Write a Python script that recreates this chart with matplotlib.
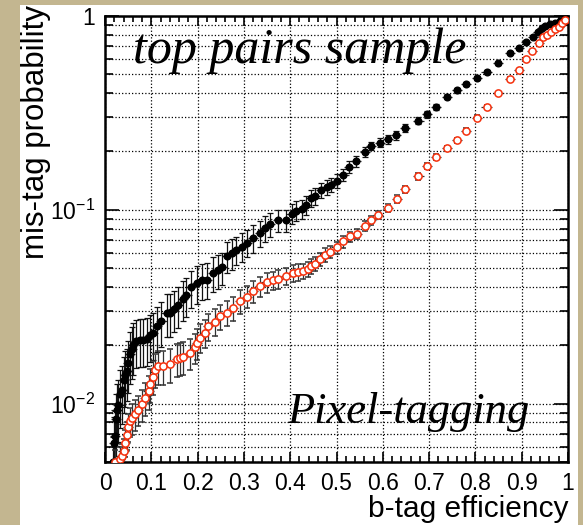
import math
import matplotlib
matplotlib.use('Agg')
import matplotlib.pyplot as plt
from matplotlib.patches import Rectangle
from matplotlib.ticker import FixedLocator, MultipleLocator, LogLocator, NullFormatter, FuncFormatter

plt.rcParams['font.family'] = ['Liberation Sans', 'DejaVu Sans']
plt.rcParams['mathtext.fontset'] = 'custom'
plt.rcParams['mathtext.rm'] = 'Liberation Sans'
plt.rcParams['mathtext.it'] = 'Liberation Sans:italic'

# black: filled circles
black_eff = [0.018, 0.020, 0.022, 0.023, 0.025, 0.029, 0.033, 0.036, 0.040, 0.044,
             0.047, 0.050, 0.054, 0.058, 0.061, 0.068, 0.076, 0.083, 0.090, 0.097,
             0.104, 0.112, 0.122, 0.133, 0.140, 0.148, 0.158, 0.168, 0.176, 0.186,
             0.198, 0.210, 0.220, 0.234, 0.244, 0.252, 0.263, 0.274, 0.284, 0.295,
             0.306, 0.320, 0.335, 0.345, 0.356, 0.374, 0.392, 0.403, 0.412, 0.425,
             0.435, 0.446, 0.453, 0.466, 0.479, 0.488, 0.500, 0.515, 0.528, 0.542,
             0.562, 0.575, 0.594, 0.612, 0.628, 0.648, 0.677, 0.695, 0.715, 0.738,
             0.761, 0.780, 0.803, 0.824, 0.849, 0.875, 0.895, 0.909, 0.925, 0.936,
             0.943, 0.950, 0.961, 0.972, 0.983, 0.994]
black_mis = [0.0050, 0.0063, 0.0068, 0.0083, 0.0093, 0.0098, 0.0112, 0.0117, 0.0132, 0.0141,
             0.0148, 0.0162, 0.0180, 0.0191, 0.0200, 0.0211, 0.0214, 0.0214, 0.0216, 0.0226,
             0.0231, 0.0251, 0.0266, 0.0295, 0.0295, 0.0309, 0.0324, 0.0347, 0.0363, 0.0398,
             0.0421, 0.0432, 0.0437, 0.0473, 0.0490, 0.0505, 0.0579, 0.0596, 0.0622, 0.0646,
             0.0676, 0.0716, 0.0759, 0.0804, 0.0847, 0.0881, 0.0881, 0.0955, 0.0991, 0.1007,
             0.1062, 0.1148, 0.1175, 0.1259, 0.1309, 0.1346, 0.1413, 0.1514, 0.1660, 0.1778,
             0.1995, 0.2138, 0.2223, 0.2312, 0.2427, 0.2655, 0.2884, 0.3112, 0.3412, 0.3837,
             0.4140, 0.4467, 0.4786, 0.5164, 0.5702, 0.6427, 0.6808, 0.7379, 0.7816, 0.8299,
             0.8630, 0.8872, 0.9099, 0.9247, 0.9462, 0.9727]
black_rel = [0.35, 0.35, 0.35, 0.35, 0.35, 0.35, 0.33, 0.33, 0.32, 0.32,
             0.30, 0.30, 0.30, 0.30, 0.30, 0.28, 0.28, 0.28, 0.28, 0.27,
             0.27, 0.26, 0.26, 0.25, 0.25, 0.24, 0.24, 0.23, 0.23, 0.22,
             0.22, 0.21, 0.21, 0.20, 0.20, 0.19, 0.18, 0.18, 0.17, 0.17,
             0.16, 0.16, 0.15, 0.15, 0.14, 0.13, 0.13, 0.12, 0.12, 0.11,
             0.11, 0.10, 0.10, 0.09, 0.09, 0.08, 0.08, 0.07, 0.07, 0.06,
             0.06, 0.05, 0.05, 0.05, 0.05, 0.045, 0.04, 0.04, 0.035, 0.03,
             0.03, 0.025, 0.025, 0.02, 0.02, 0.015, 0.015, 0.012, 0.01, 0.01,
             0.01, 0.008, 0.008, 0.006, 0.005, 0.004]

# red: open circles
red_eff = [0.022, 0.032, 0.036, 0.040, 0.043, 0.047, 0.050, 0.054, 0.058, 0.065,
           0.072, 0.079, 0.086, 0.094, 0.097, 0.104, 0.108, 0.115, 0.126, 0.140,
           0.155, 0.162, 0.169, 0.184, 0.194, 0.198, 0.205, 0.216, 0.223, 0.238,
           0.248, 0.263, 0.277, 0.292, 0.306, 0.320, 0.335, 0.349, 0.362, 0.374,
           0.392, 0.407, 0.417, 0.428, 0.439, 0.446, 0.453, 0.464, 0.475, 0.486,
           0.500, 0.515, 0.529, 0.544, 0.562, 0.575, 0.590, 0.612, 0.630, 0.648,
           0.677, 0.695, 0.715, 0.738, 0.761, 0.780, 0.803, 0.824, 0.849, 0.875,
           0.895, 0.909, 0.923, 0.938, 0.947, 0.954, 0.963, 0.972, 0.980, 0.987,
           0.994]
red_mis = [0.0050, 0.0052, 0.0054, 0.0057, 0.0063, 0.0069, 0.0076, 0.0081, 0.0084, 0.0088,
           0.0093, 0.0099, 0.0107, 0.0116, 0.0126, 0.0138, 0.0150, 0.0156, 0.0156, 0.0160,
           0.0170, 0.0172, 0.0174, 0.0182, 0.0195, 0.0206, 0.0219, 0.0232, 0.0251, 0.0265,
           0.0282, 0.0295, 0.0311, 0.0339, 0.0357, 0.0380, 0.0403, 0.0423, 0.0432, 0.0440,
           0.0457, 0.0472, 0.0475, 0.0481, 0.0494, 0.0511, 0.0527, 0.0557, 0.0586, 0.0608,
           0.0640, 0.0687, 0.0729, 0.0752, 0.0830, 0.0881, 0.0942, 0.1023, 0.1135, 0.1279,
           0.1486, 0.1687, 0.1884, 0.2080, 0.2286, 0.2564, 0.2992, 0.3412, 0.3990, 0.4732,
           0.5272, 0.5984, 0.6622, 0.7228, 0.7762, 0.7980, 0.8241, 0.8531, 0.8810, 0.9162,
           0.9528]
red_rel = [0.15, 0.15, 0.15, 0.15, 0.16, 0.16, 0.17, 0.17, 0.18, 0.18,
           0.18, 0.19, 0.19, 0.20, 0.20, 0.20, 0.20, 0.20, 0.20, 0.20,
           0.19, 0.19, 0.19, 0.18, 0.18, 0.18, 0.17, 0.17, 0.16, 0.16,
           0.15, 0.15, 0.14, 0.14, 0.13, 0.13, 0.12, 0.12, 0.11, 0.11,
           0.10, 0.10, 0.10, 0.09, 0.09, 0.09, 0.08, 0.08, 0.08, 0.07,
           0.07, 0.07, 0.06, 0.06, 0.06, 0.05, 0.05, 0.05, 0.045, 0.04,
           0.04, 0.035, 0.035, 0.03, 0.03, 0.025, 0.025, 0.02, 0.02, 0.018,
           0.015, 0.012, 0.012, 0.01, 0.01, 0.008, 0.008, 0.006, 0.006, 0.005,
           0.004]

x_ticks = [0, 0.1, 0.2, 0.3, 0.4, 0.5, 0.6, 0.7, 0.8, 0.9, 1]
x_labels = ['0', '0.1', '0.2', '0.3', '0.4', '0.5', '0.6', '0.7', '0.8', '0.9', '1']

fig = plt.figure(figsize=(5.83, 5.25), dpi=100)
fig.patch.set_facecolor('#c3b690')
# white canvas on the beige backdrop
fig.patches.append(Rectangle((20 / 583, 0), 558 / 583, 520 / 525, transform=fig.transFigure,
                             facecolor='white', edgecolor='none', zorder=-5))

ax = fig.add_axes([105 / 583, 1 - 462 / 525, 463 / 583, 446 / 525])
ax.set_zorder(2)
ax.set_yscale('log')
ax.set_xlim(0, 1)
ax.set_ylim(0.005, 1)

black_err = [m * r for m, r in zip(black_mis, black_rel)]
red_err = [m * r for m, r in zip(red_mis, red_rel)]

# horizontal bars without caps, vertical bars with small caps
ax.errorbar(black_eff, black_mis, xerr=0.011, fmt='none', ecolor='#222222',
            elinewidth=0.9, capsize=0, zorder=3)
ax.errorbar(red_eff, red_mis, xerr=0.011, fmt='none', ecolor='#333333',
            elinewidth=0.9, capsize=0, zorder=3)
ax.errorbar(black_eff, black_mis, yerr=black_err, fmt='o', ms=4.8, mfc='black', mec='black',
            ecolor='#111111', elinewidth=0.9, capsize=2, capthick=0.9, zorder=4)
ax.errorbar(red_eff, red_mis, yerr=red_err, fmt='o', ms=5.2, mfc='white', mec='#f5300c', mew=1.1,
            ecolor='#333333', elinewidth=0.9, capsize=2, capthick=0.9, zorder=5)

ax.xaxis.set_major_locator(FixedLocator(x_ticks))
ax.set_xticklabels(x_labels)
ax.xaxis.set_minor_locator(MultipleLocator(0.02))
ax.yaxis.set_major_locator(LogLocator(base=10, numticks=10))
ax.yaxis.set_minor_locator(LogLocator(base=10, subs=range(2, 10), numticks=10))
ax.yaxis.set_minor_formatter(NullFormatter())
ax.yaxis.set_major_formatter(FuncFormatter(
    lambda v, p: '1' if abs(v - 1) < 1e-9 else r'$10^{%d}$' % round(math.log10(v))))

ax.tick_params(which='both', direction='in', top=True, right=True, width=1.2, labelsize=16.5)
ax.tick_params(axis='x', which='major', length=7, pad=7)
ax.tick_params(axis='x', which='minor', length=4)
ax.tick_params(axis='y', which='major', length=10, pad=7)
ax.tick_params(axis='y', which='minor', length=6)

ax.grid(True, which='major', axis='x', linestyle=':', color='black', linewidth=0.9)
ax.grid(True, which='both', axis='y', linestyle=':', color='black', linewidth=0.9)
ax.set_axisbelow(True)
for s in ax.spines.values():
    s.set_linewidth(1.8)

# axis titles, ROOT style: right / top aligned
fig.text(568 / 583, 1 - 517 / 525, 'b-tag efficiency', fontsize=21.5,
         ha='right', va='baseline')
fig.text(44 / 583, 1 - 5 / 525, 'mis-tag probability', fontsize=22.5, rotation=90,
         rotation_mode='anchor', ha='right', va='baseline')

fig.text(133 / 583, 1 - 63 / 525, 'top pairs sample', fontsize=36, style='italic',
         family='Liberation Serif', ha='left', va='baseline', zorder=5)
fig.text(287 / 583, 1 - 423 / 525, 'Pixel-tagging', fontsize=32, style='italic',
         family='Liberation Serif', ha='left', va='baseline', zorder=5)

fig.savefig('out.png', dpi=100, facecolor=fig.get_facecolor())
